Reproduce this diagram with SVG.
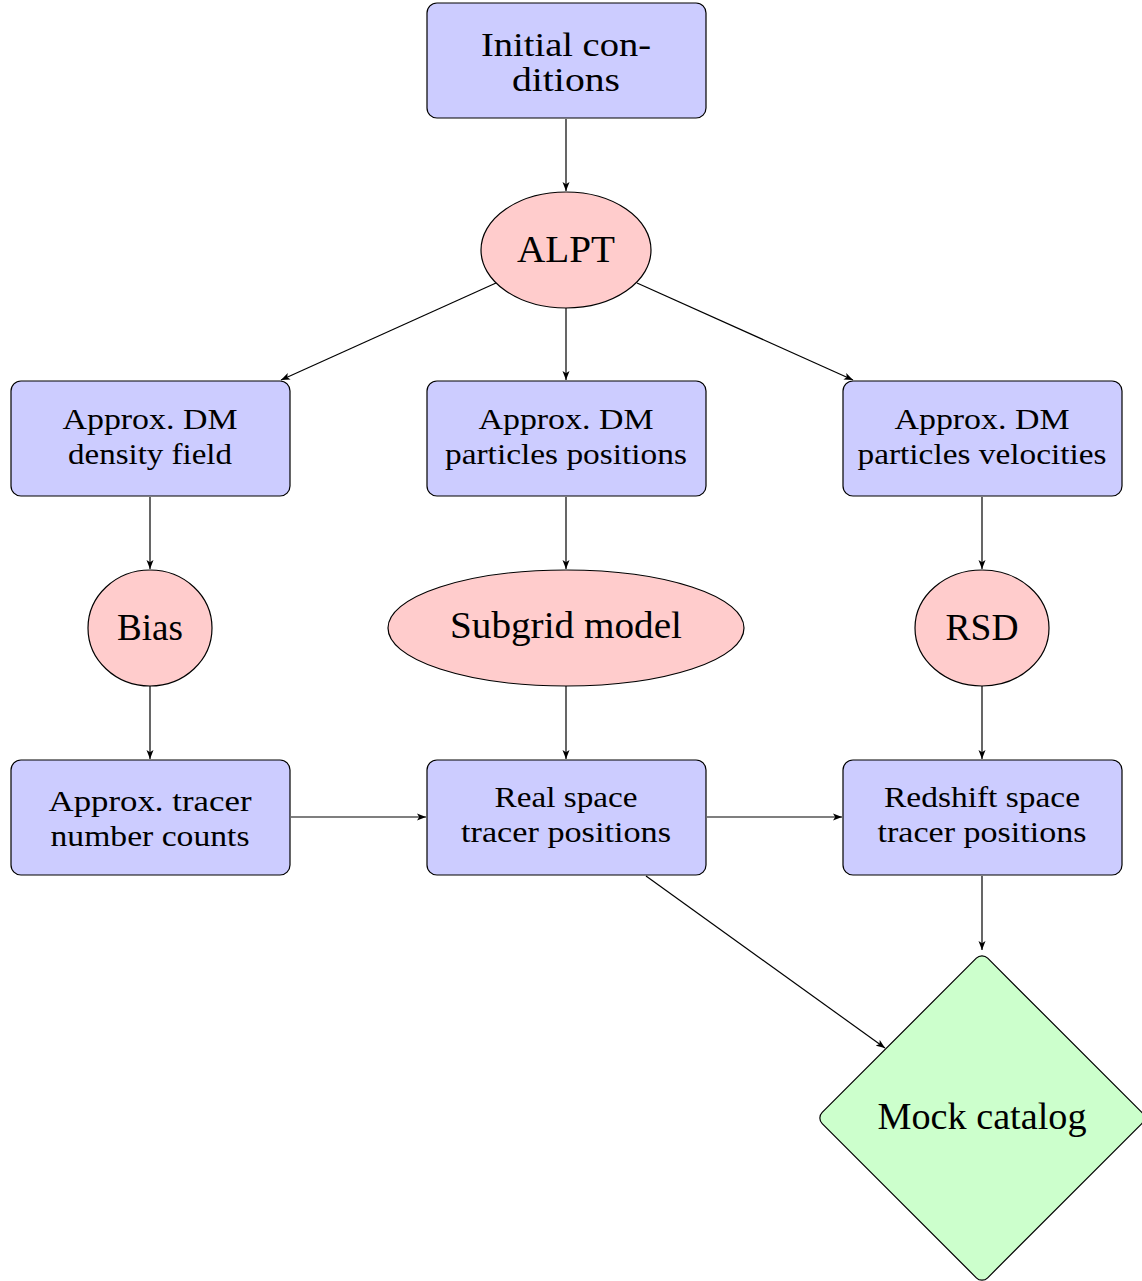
<svg xmlns="http://www.w3.org/2000/svg" width="1142" height="1281" viewBox="0 0 1142 1281">
<style>
.box{fill:#ccccff;stroke:#000;stroke-width:1.2}
.ell{fill:#ffcccc;stroke:#000;stroke-width:1.2}
.dia{fill:#ccffcc;stroke:#000;stroke-width:1.2}
.t{font-family:"Liberation Serif","Times New Roman",serif;fill:#000;text-anchor:middle}
.s{font-size:30px}
.l{font-size:37px}
.m{font-size:33px}
.c{stroke:#000;stroke-width:1.2;fill:none;marker-end:url(#ah)}
</style>
<defs>
<marker id="ah" markerUnits="userSpaceOnUse" markerWidth="10" markerHeight="8" refX="9" refY="4" orient="auto">
<path d="M0,0.5 L9,4 L0,7.5 L2.2,4 z" fill="#000"/>
</marker>
</defs>
<rect width="1142" height="1281" fill="#fff"/>
<g id="connectors">
<line class="c" x1="566" y1="119" x2="566" y2="191"/>
<line class="c" x1="496" y1="283" x2="281" y2="380"/>
<line class="c" x1="566" y1="308" x2="566" y2="380"/>
<line class="c" x1="637" y1="283" x2="853" y2="380"/>
<line class="c" x1="150" y1="497" x2="150" y2="569"/>
<line class="c" x1="566" y1="497" x2="566" y2="569"/>
<line class="c" x1="982" y1="497" x2="982" y2="569"/>
<line class="c" x1="150" y1="686" x2="150" y2="759"/>
<line class="c" x1="566" y1="686" x2="566" y2="759"/>
<line class="c" x1="982" y1="686" x2="982" y2="759"/>
<line class="c" x1="291" y1="817" x2="426" y2="817"/>
<line class="c" x1="707" y1="817" x2="842" y2="817"/>
<line class="c" x1="646" y1="876" x2="885" y2="1048"/>
<line class="c" x1="982" y1="876" x2="982" y2="950"/>
</g>
<g id="initial">
<rect class="box" x="427" y="3" width="279" height="115" rx="10"/>
<text class="t m" x="566" y="56" textLength="170" lengthAdjust="spacingAndGlyphs">Initial con-</text>
<text class="t m" x="566" y="91" textLength="108" lengthAdjust="spacingAndGlyphs">ditions</text>
</g>
<g id="alpt">
<ellipse class="ell" cx="566" cy="250" rx="85" ry="58"/>
<text class="t l" x="566" y="262" textLength="98" lengthAdjust="spacingAndGlyphs">ALPT</text>
</g>
<g id="density">
<rect class="box" x="11" y="381" width="279" height="115" rx="10"/>
<text class="t s" x="150" y="429" textLength="175" lengthAdjust="spacingAndGlyphs">Approx. DM</text>
<text class="t s" x="150" y="464" textLength="164" lengthAdjust="spacingAndGlyphs">density field</text>
</g>
<g id="positions">
<rect class="box" x="427" y="381" width="279" height="115" rx="10"/>
<text class="t s" x="566" y="429" textLength="175" lengthAdjust="spacingAndGlyphs">Approx. DM</text>
<text class="t s" x="566" y="464" textLength="242" lengthAdjust="spacingAndGlyphs">particles positions</text>
</g>
<g id="velocities">
<rect class="box" x="843" y="381" width="279" height="115" rx="10"/>
<text class="t s" x="982" y="429" textLength="175" lengthAdjust="spacingAndGlyphs">Approx. DM</text>
<text class="t s" x="982" y="464" textLength="249" lengthAdjust="spacingAndGlyphs">particles velocities</text>
</g>
<g id="bias">
<ellipse class="ell" cx="150" cy="628" rx="62" ry="58"/>
<text class="t l" x="150" y="640" textLength="66" lengthAdjust="spacingAndGlyphs">Bias</text>
</g>
<g id="subgrid">
<ellipse class="ell" cx="566" cy="628" rx="178" ry="58"/>
<text class="t l" x="566" y="638" textLength="232" lengthAdjust="spacingAndGlyphs">Subgrid model</text>
</g>
<g id="rsd">
<ellipse class="ell" cx="982" cy="628" rx="67" ry="58"/>
<text class="t l" x="982" y="640" textLength="73" lengthAdjust="spacingAndGlyphs">RSD</text>
</g>
<g id="counts">
<rect class="box" x="11" y="760" width="279" height="115" rx="10"/>
<text class="t s" x="150" y="811" textLength="203" lengthAdjust="spacingAndGlyphs">Approx. tracer</text>
<text class="t s" x="150" y="846" textLength="199" lengthAdjust="spacingAndGlyphs">number counts</text>
</g>
<g id="real">
<rect class="box" x="427" y="760" width="279" height="115" rx="10"/>
<text class="t s" x="566" y="807" textLength="143" lengthAdjust="spacingAndGlyphs">Real space</text>
<text class="t s" x="566" y="842" textLength="210" lengthAdjust="spacingAndGlyphs">tracer positions</text>
</g>
<g id="redshift">
<rect class="box" x="843" y="760" width="279" height="115" rx="10"/>
<text class="t s" x="982" y="807" textLength="196" lengthAdjust="spacingAndGlyphs">Redshift space</text>
<text class="t s" x="982" y="842" textLength="209" lengthAdjust="spacingAndGlyphs">tracer positions</text>
</g>
<g id="mock">
<rect class="dia" x="865" y="1001" width="234" height="234" rx="8" transform="rotate(45 982 1118)"/>
<text class="t l" x="982" y="1129" textLength="209" lengthAdjust="spacingAndGlyphs">Mock catalog</text>
</g>
</svg>
